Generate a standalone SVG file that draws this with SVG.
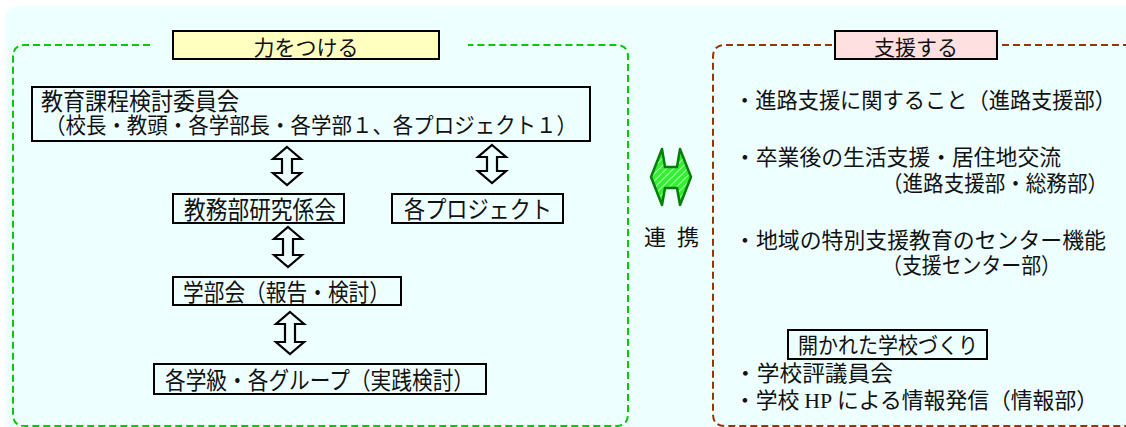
<svg xmlns="http://www.w3.org/2000/svg" width="1126" height="427" viewBox="0 0 1126 427">
  <style>
    .jp { font-family: "Noto Sans CJK JP", "Noto Sans", sans-serif; fill: #111; }
    .box { fill: #EEFFFF; stroke: #000; stroke-width: 2; }
    .arr { fill: #EEFFFF; stroke: #000; stroke-width: 2.2; stroke-linejoin: miter; }
    .gdash { fill: none; stroke: #00CC00; stroke-width: 2; stroke-dasharray: 7 4; }
    .bdash { fill: none; stroke: #993300; stroke-width: 2; stroke-dasharray: 7 4; }
  </style>
  <defs>
    <pattern id="hatch" width="5" height="5" patternUnits="userSpaceOnUse" patternTransform="rotate(45)">
      <rect width="5" height="5" fill="#33EE33"/>
      <line x1="0" y1="0" x2="0" y2="5" stroke="#FFFFFF" stroke-width="1.2"/>
    </pattern>
  </defs>

  <rect x="0" y="0" width="1126" height="427" fill="#FFFFFF"/>
  <path d="M5,19 Q5,7 17,7 L1126,7 L1126,427 L5,427 Z" fill="#EEFFFF"/>

  <!-- frames -->
  <g id="frames">
    <path class="gdash" d="M150,45 L25,45 Q13,45 13,57 L13,414 Q13,426 25,426 L616,426 Q628,426 628,414 L628,57 Q628,45 616,45 L468,45"/>
    <path class="bdash" d="M832,45 L725,45 Q713,45 713,57 L713,414 Q713,426 725,426 L1130,426"/>
    <path class="bdash" d="M1002,45 L1130,45"/>
  </g>

  <!-- connectors -->
  <g id="connectors">
    <path class="arr" d="M287,147 L301,159 L292,159 L292,173 L301,173 L287,185 L273,173 L282,173 L282,159 L273,159 Z"/>
    <path class="arr" d="M492,145 L506,157 L497,157 L497,171 L506,171 L492,183 L478,171 L487,171 L487,157 L478,157 Z"/>
    <path class="arr" d="M288,227 L302,239 L293,239 L293,255 L302,255 L288,267 L274,255 L283,255 L283,239 L274,239 Z"/>
    <path class="arr" d="M290,312 L304,324 L295,324 L295,342 L304,342 L290,354 L276,342 L285,342 L285,324 L276,324 Z"/>
    <path d="M651,177 L662,149 L665,167 L677,167 L680,149 L691,177 L680,205 L677,188 L665,188 L662,205 Z" fill="url(#hatch)" stroke="#008000" stroke-width="2.5" stroke-linejoin="round"/>
    <text class="jp" x="644" y="245" font-size="22" textLength="55" lengthAdjust="spacing">連 携</text>
  </g>

  <g id="label-chikara">
    <rect x="173" y="31" width="266" height="28" fill="#FFFFC0" stroke="#000" stroke-width="2"/>
    <text class="jp" x="306" y="55" font-size="21" text-anchor="middle">力をつける</text>
  </g>

  <g id="label-shien">
    <rect x="835" y="31" width="162" height="28" fill="#FFE0E0" stroke="#000" stroke-width="2"/>
    <text class="jp" x="916" y="55" font-size="21" text-anchor="middle">支援する</text>
  </g>

  <g id="node-kyoiku">
    <rect class="box" x="32" y="87" width="558" height="54"/>
    <text class="jp" x="41" y="110" font-size="24" textLength="198" lengthAdjust="spacingAndGlyphs">教育課程検討委員会</text>
    <text class="jp" x="45" y="133" font-size="22" textLength="532" lengthAdjust="spacingAndGlyphs">（校長・教頭・各学部長・各学部１、各プロジェクト１）</text>
  </g>

  <g id="node-kyomu">
    <rect class="box" x="173" y="194" width="171" height="29"/>
    <text class="jp" x="184" y="219" font-size="25" textLength="152" lengthAdjust="spacingAndGlyphs">教務部研究係会</text>
  </g>

  <g id="node-project">
    <rect class="box" x="392" y="194" width="171" height="29"/>
    <text class="jp" x="404" y="218" font-size="24" textLength="148" lengthAdjust="spacingAndGlyphs">各プロジェクト</text>
  </g>

  <g id="node-gakubukai">
    <rect class="box" x="173" y="277" width="228" height="28"/>
    <text class="jp" x="183" y="301" font-size="24" textLength="207" lengthAdjust="spacingAndGlyphs">学部会（報告・検討）</text>
  </g>

  <g id="node-gakkyu">
    <rect class="box" x="154" y="364" width="332" height="30"/>
    <text class="jp" x="165" y="389" font-size="24" textLength="309" lengthAdjust="spacingAndGlyphs">各学級・各グループ（実践検討）</text>
  </g>

  <g id="support-list">
    <text class="jp" x="734" y="108" font-size="22" textLength="382" lengthAdjust="spacingAndGlyphs">・進路支援に関すること（進路支援部）</text>
    <text class="jp" x="734" y="165" font-size="22" textLength="327" lengthAdjust="spacingAndGlyphs">・卒業後の生活支援・居住地交流</text>
    <text class="jp" x="882" y="191" font-size="22" textLength="226" lengthAdjust="spacingAndGlyphs">（進路支援部・総務部）</text>
    <text class="jp" x="734" y="248" font-size="22" textLength="372" lengthAdjust="spacingAndGlyphs">・地域の特別支援教育のセンター機能</text>
    <text class="jp" x="882" y="273" font-size="22" textLength="179" lengthAdjust="spacingAndGlyphs">（支援センター部）</text>
  </g>

  <g id="node-hirakareta">
    <rect class="box" x="788" y="330" width="199" height="29"/>
    <text class="jp" x="798" y="353" font-size="22" textLength="180" lengthAdjust="spacingAndGlyphs">開かれた学校づくり</text>
  </g>

  <g id="open-list">
    <text class="jp" x="734" y="381" font-size="22" textLength="159" lengthAdjust="spacingAndGlyphs">・学校評議員会</text>
    <text class="jp" x="734" y="408" font-size="22" textLength="364" lengthAdjust="spacingAndGlyphs">・学校 <tspan font-family="'Liberation Serif', serif">HP</tspan> による情報発信（情報部）</text>
  </g>
</svg>
